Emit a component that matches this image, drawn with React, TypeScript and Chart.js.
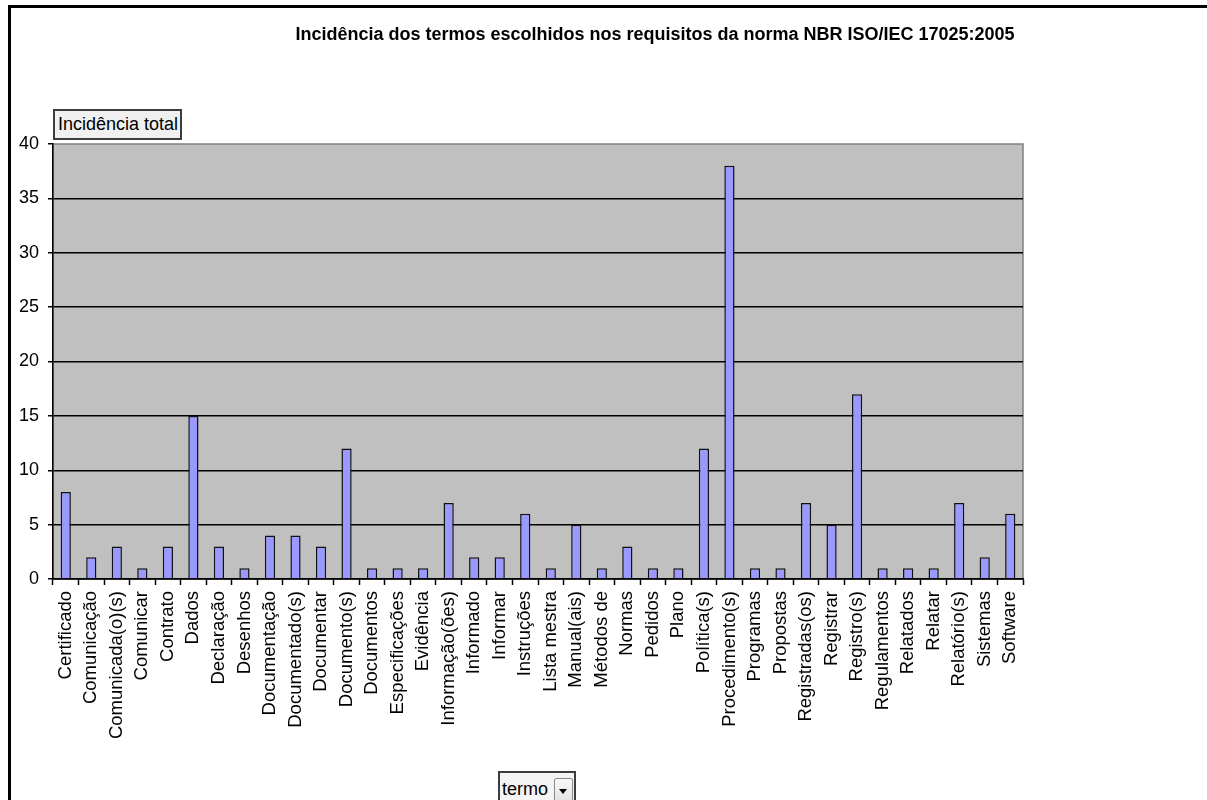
import React, { useEffect, useRef } from "react";
import { Chart, registerables } from "chart.js";

Chart.register(...registerables);

const categories = [
  "Certificado", "Comunicação", "Comunicada(o)(s)", "Comunicar", "Contrato", "Dados",
  "Declaração", "Desenhos", "Documentação", "Documentado(s)", "Documentar", "Documento(s)",
  "Documentos", "Especificações", "Evidência", "Informação(ões)", "Informado", "Informar",
  "Instruções", "Lista mestra", "Manual(ais)", "Métodos de", "Normas", "Pedidos", "Plano",
  "Política(s)", "Procedimento(s)", "Programas", "Propostas", "Registradas(os)", "Registrar",
  "Registro(s)", "Regulamentos", "Relatados", "Relatar", "Relatório(s)", "Sistemas", "Software",
];

const incidenciaTotal = [
  8, 2, 3, 1, 3, 15, 3, 1, 4, 4, 3, 12, 1, 1, 1, 7, 2, 2, 6, 1, 5, 1, 3, 1, 1, 12, 38, 1, 1,
  7, 5, 17, 1, 1, 1, 7, 2, 6,
];

const yTicks = [0, 5, 10, 15, 20, 25, 30, 35, 40];

const titleText = "Incidência dos termos escolhidos nos requisitos da norma NBR ISO/IEC 17025:2005";
const seriesLabel = "Incidência total";
const fieldLabel = "termo";

const FONT = '"Liberation Sans", Arial, sans-serif';

const plotBg = {
  id: "plotBg",
  beforeDraw(chart: any) {
    const { ctx, chartArea: a } = chart;
    ctx.save();
    ctx.fillStyle = "#C0C0C0";
    ctx.fillRect(a.left, a.top, a.right - a.left, a.bottom - a.top);
    ctx.strokeStyle = "#808080";
    ctx.lineWidth = 1.5;
    ctx.strokeRect(a.left, a.top, a.right - a.left, a.bottom - a.top);
    ctx.restore();
  },
};

export default function App() {
  const ref = useRef<HTMLCanvasElement>(null);

  useEffect(() => {
    if (!ref.current) return;
    const chart = new Chart(ref.current, {
      type: "bar",
      data: {
        labels: categories,
        datasets: [
          {
            label: seriesLabel,
            data: incidenciaTotal,
            backgroundColor: "#9999FF",
            borderColor: "#111",
            borderWidth: 1.5,
            barPercentage: 0.4,
            categoryPercentage: 1,
          },
        ],
      },
      options: {
        responsive: false,
        animation: false,
        layout: { padding: { left: 0, top: 144, right: 184, bottom: 0 } },
        plugins: {
          legend: { display: false },
          title: { display: false },
          tooltip: { enabled: false },
        },
        scales: {
          x: {
            offset: true,
            grid: {
              offset: true,
              drawOnChartArea: false,
              drawTicks: true,
              tickLength: 6,
              tickColor: "#000",
              tickWidth: 1.5,
            },
            border: { color: "#000", width: 1.5 },
            ticks: {
              autoSkip: false,
              minRotation: 90,
              maxRotation: 90,
              padding: 6,
              color: "#000",
              font: { family: FONT, size: 18.5 },
            },
            afterFit(scale: any) {
              scale.height = 221;
            },
          },
          y: {
            min: 0,
            max: 40,
            afterBuildTicks(scale: any) {
              scale.ticks = yTicks.map((v) => ({ value: v }));
            },
            grid: {
              color: (c: any) => (c.tick && c.tick.value === 40 ? "rgba(0,0,0,0)" : "#000"),
              lineWidth: 1.5,
              tickLength: 5,
              tickColor: "#000",
              tickWidth: 1.5,
            },
            border: { color: "#000", width: 1.5 },
            ticks: {
              padding: 9,
              color: "#000",
              font: { family: FONT, size: 18 },
            },
            afterFit(scale: any) {
              scale.width = 53;
            },
          },
        },
      },
      plugins: [plotBg],
    });
    return () => chart.destroy();
  }, []);

  return (
    <div
      style={{
        position: "absolute",
        left: 0,
        top: 0,
        width: 1207,
        height: 800,
        overflow: "hidden",
        background: "#fff",
        fontFamily: FONT,
      }}
    >
      <canvas ref={ref} width={1207} height={800} style={{ position: "absolute", left: 0, top: 0 }} />
      <div style={{ position: "absolute", left: 8, top: 5, width: 1199, height: 3, background: "#000" }} />
      <div style={{ position: "absolute", left: 8, top: 5, width: 3, height: 795, background: "#000" }} />
      <div
        style={{
          position: "absolute",
          left: 655,
          top: 24,
          transform: "translateX(-50%)",
          whiteSpace: "nowrap",
          fontWeight: "bold",
          fontSize: 18,
          lineHeight: "20px",
          color: "#000",
        }}
      >
        {titleText}
      </div>
      <div
        style={{
          position: "absolute",
          left: 53,
          top: 109,
          width: 122,
          height: 27,
          border: "2px solid #3c3c3c",
          background: "#F0F0F0",
          fontSize: 18,
          lineHeight: "27px",
          paddingLeft: 3,
          boxSizing: "content-box",
          whiteSpace: "nowrap",
          color: "#000",
        }}
      >
        {seriesLabel}
      </div>
      <div
        style={{
          position: "absolute",
          left: 498,
          top: 771,
          width: 74,
          height: 40,
          border: "2px solid #3c3c3c",
          background: "#F4F4F4",
          color: "#000",
        }}
      >
        <span
          style={{
            position: "absolute",
            left: 2,
            top: 4,
            fontSize: 18,
            lineHeight: "24px",
            whiteSpace: "nowrap",
          }}
        >
          {fieldLabel}
        </span>
        <div
          style={{
            position: "absolute",
            left: 54,
            top: 5,
            width: 17,
            height: 30,
            border: "1px solid #888",
            borderRadius: 2,
            background: "linear-gradient(#f8f8f8, #dcdcdc)",
          }}
        >
          <div
            style={{
              position: "absolute",
              left: 4,
              top: 10,
              width: 0,
              height: 0,
              borderLeft: "4px solid transparent",
              borderRight: "4px solid transparent",
              borderTop: "5px solid #000",
            }}
          />
        </div>
      </div>
    </div>
  );
}
